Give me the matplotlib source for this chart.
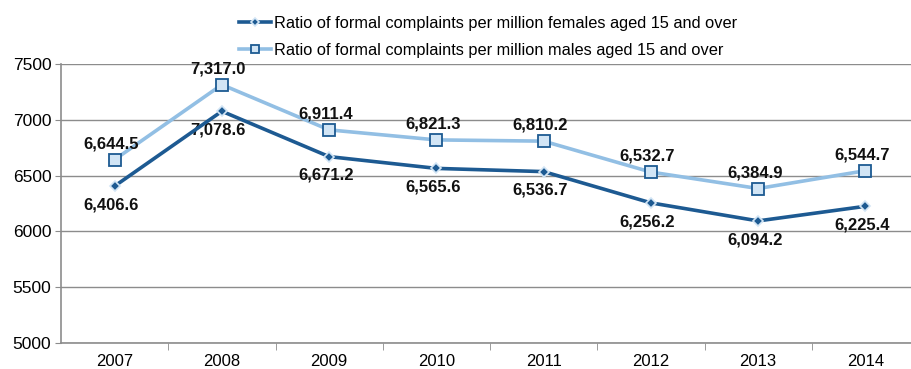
import matplotlib.pyplot as plt
import numpy as np

years = ["2007", "2008", "2009", "2010", "2011", "2012", "2013", "2014"]
females = [6406.6, 7078.6, 6671.2, 6565.6, 6536.7, 6256.2, 6094.2, 6225.4]
males = [6644.5, 7317.0, 6911.4, 6821.3, 6810.2, 6532.7, 6384.9, 6544.7]

DARK, LIGHT, FILL = "#1d5a92", "#92bfe4", "#d2e5f5"
GRID = "#8c8c8c"

plt.rcParams["font.family"] = ["Liberation Sans", "DejaVu Sans"]

fig = plt.figure(figsize=(9.11, 3.69), dpi=100)
W, H = 911, 369
left, right, top, bottom = 61, 919, 64.3, 342.8
ax = fig.add_axes([left / W, 1 - bottom / H, (right - left) / W, (bottom - top) / H])

x = np.arange(len(years))
ax.plot(x, females, color=DARK, lw=2.6, marker="D", ms=5, mfc=DARK, mec=FILL, mew=1.2,
        label="Ratio of formal complaints per million females aged 15 and over", zorder=4)
ax.plot(x, males, color=LIGHT, lw=2.6, marker="s", ms=8, mfc=FILL, mec=DARK, mew=1.3,
        label="Ratio of formal complaints per million males aged 15 and over", zorder=3)

for xi, v in zip(x, females):
    ax.annotate(f"{v:,.1f}", (xi, v), xytext=(-2.5, -13.5), textcoords="offset points",
                ha="center", va="center", fontsize=12, fontweight="bold", color="#111111")
for xi, v in zip(x, males):
    ax.annotate(f"{v:,.1f}", (xi, v), xytext=(-2.5, 11.5), textcoords="offset points",
                ha="center", va="center", fontsize=12, fontweight="bold", color="#111111")

ax.set_xlim(-0.5, len(years) - 0.5)
ax.set_ylim(5000, 7500)
ax.set_yticks(range(5000, 7501, 500))
ax.set_xticks(x)
ax.set_xticklabels(years)
ax.set_xticks(x[:-1] + 0.5, minor=True)
ax.tick_params(axis="x", which="major", length=0, pad=8, labelsize=12)
ax.tick_params(axis="x", which="minor", length=5, color=GRID, direction="out")
ax.tick_params(axis="y", length=4, color=GRID, labelsize=12.5, pad=3)
ax.grid(axis="y", color=GRID, lw=1)
ax.set_axisbelow(True)
for s in ["top", "right"]:
    ax.spines[s].set_visible(False)
for s in ["left", "bottom"]:
    ax.spines[s].set_color(GRID)
    ax.spines[s].set_linewidth(1.2)

leg = fig.legend(loc="upper left", bbox_to_anchor=(232 / W, 1 - 9 / H), frameon=False,
                 fontsize=11.8, handlelength=2.0, handletextpad=0.15, labelspacing=0.75,
                 borderaxespad=0, markerscale=0.8)

fig.savefig("out.png", dpi=100)
